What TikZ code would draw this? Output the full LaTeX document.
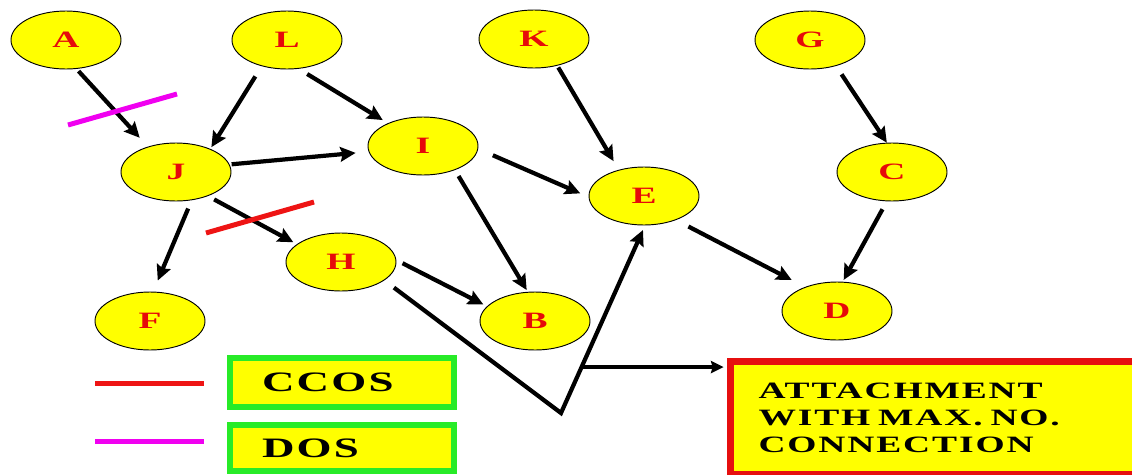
\documentclass[tikz,border=0pt]{standalone}
\usepackage{fontspec}
\newfontfamily\wfont[FakeStretch=1.6,LetterSpace=8]{Liberation Serif}
\usetikzlibrary{shapes.geometric,arrows.meta,calc}
\definecolor{nodeyellow}{RGB}{255,255,0}
\definecolor{labelred}{RGB}{230,10,10}
\definecolor{ccosred}{RGB}{238,20,20}
\definecolor{dosmagenta}{RGB}{240,0,240}
\definecolor{boxgreen}{RGB}{40,235,40}
\definecolor{boxred}{RGB}{230,15,15}

\begin{document}
\begin{tikzpicture}[x=0.03cm,y=-0.03cm,
  vertex/.style={ellipse, draw=black, line width=0.8pt, fill=nodeyellow,
    minimum width=3.3cm, minimum height=1.74cm, inner sep=0pt,
    font=\wfont\bfseries\fontsize{20}{22}\selectfont, text=labelred},
  arr/.style={line width=3.6pt, -{Stealth[length=0.46cm,width=0.44cm,inset=0.07cm]}},
  thinarr/.style={line width=2.8pt, -{Stealth[length=0.38cm,width=0.36cm,inset=0.05cm]}},
  legbox/.style={rectangle, draw=boxgreen, line width=0.18cm, fill=nodeyellow,
    minimum width=6.72cm, inner xsep=0.96cm, inner ysep=0pt, text width=4.8cm,
    align=left, font=\wfont\bfseries\fontsize{24}{26}\selectfont, text=black},
  notebox/.style={rectangle, draw=boxred, line width=0.21cm, fill=nodeyellow,
    minimum width=12.69cm, minimum height=3.39cm, inner xsep=0.84cm, inner ysep=0pt,
    text width=11.01cm, align=left,
    font=\wfont\bfseries\fontsize{20}{23}\selectfont, text=black},
  cutmark/.style={line width=0.15cm}
]
\clip (0,0) rectangle (1132,474);

% graph vertices
\node[vertex] (A) at (66,40)   {A};
\node[vertex] (L) at (287,40)  {L};
\node[vertex] (K) at (534,39)  {K};
\node[vertex] (G) at (810,40)  {G};
\node[vertex] (J) at (176,172) {J};
\node[vertex] (I) at (423,146) {I};
\node[vertex] (E) at (644,196) {E};
\node[vertex] (C) at (892,172) {C};
\node[vertex] (H) at (341,262) {H};
\node[vertex] (F) at (150,321) {F};
\node[vertex] (B) at (535,321) {B};
\node[vertex] (D) at (837,311) {D};

% directed edges
\draw[arr, shorten <=0.09cm, shorten >=0.36cm] (A.-70) -- (J.138);
\draw[arr, shorten <=0.36cm, shorten >=0.06cm] (L.226) -- (J.34);
\draw[arr, shorten <=0.3cm,  shorten >=0.18cm] (L.-68) -- (I.147);
\draw[arr, shorten <=0.06cm, shorten >=0.39cm] (J.8) -- (I.186);
\draw[arr, shorten <=0.06cm, shorten >=0.3cm]  (K.-49) -- (E.134);
\draw[arr, shorten <=0.48cm, shorten >=0.27cm] (I.-3) -- (E.181);
\draw[arr, shorten <=0.21cm, shorten >=0.06cm] (I.-37) -- (B.104);
\draw[arr, shorten <=0.3cm]                    (G.-45) -- (C.100);
\draw[arr, shorten <=0.27cm, shorten >=0.06cm] (C.-100) -- (D.79);
\draw[arr, shorten <=0.42cm, shorten >=0.45cm] (E.-37) -- (D.143);
\draw[arr, shorten <=0.27cm, shorten >=0.36cm] (J.-61) -- (F.84);
\draw[arr, shorten <=0.21cm, shorten >=0.12cm] (J.-37) -- (H.158);
\draw[arr, shorten <=0.21cm, shorten >=0.12cm] (H.2) -- (B.163);

% bent edge from H up to E
\coordinate (V) at (561,413);
\draw[arr, line join=miter, shorten <=0.36cm, shorten >=0.15cm] (H.-23) -- (V) -- (E.-88);

% legend boxes and note box
\node[legbox, minimum height=1.47cm] (ccos) at (342,382.5) {CCOS};
\node[legbox, minimum height=1.38cm] (dos)  at (342,448)   {DOS};
\node[notebox, anchor=north west] (att) at (727,358)
  {ATTACHMENT\\WITH MAX. NO.\\CONNECTION};

% pointer from the bent edge to the note
\coordinate (T) at ($(V)!0.245!(E.-88)$);
\draw[thinarr, shorten >=0.1cm] (T) -- (T -| att.west);

% cut marks on edges
\draw[cutmark, dosmagenta] (68,125) -- (177,94);
\draw[cutmark, ccosred] (206,233) -- (314,202);

% legend strokes
\draw[cutmark, ccosred] (95,383) -- (204,383);
\draw[cutmark, dosmagenta] (95,441) -- (204,441);
\end{tikzpicture}
\end{document}
